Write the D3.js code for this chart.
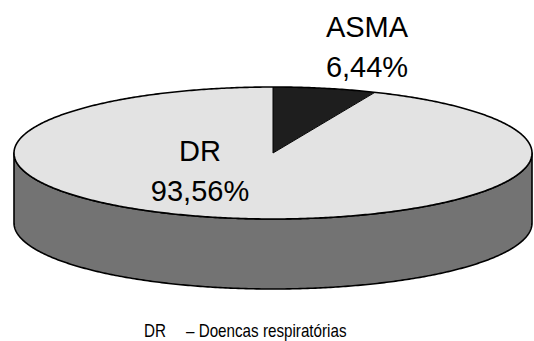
<!DOCTYPE html>
<html>
<head>
<meta charset="utf-8">
<script src="https://cdn.jsdelivr.net/npm/d3@7"></script>
<style>
  html, body { margin: 0; padding: 0; background: #fff; }
  svg { display: block; }
</style>
</head>
<body>
<svg id="chart" width="534" height="341"></svg>
<script>
// Share of cases: asthma vs. other respiratory diseases
const categories = ["ASMA", "DR"];
const values = [6.44, 93.56];
const valueLabels = ["6,44%", "93,56%"];
const legendKey = "DR";
const legendText = "–  Doencas respiratórias";

const topColors = { "ASMA": "#1e1e1e", "DR": "#e3e3e3" };
const sideColors = { "ASMA": "#111111", "DR": "#737373" };

const svg = d3.select("#chart");

// Projected disc geometry
const cx = 273, cy = 153, rx = 259, ry = 66, depth = 70;

const data = categories.map((c, i) => ({ cat: c, value: values[i], label: valueLabels[i] }));
const pie = d3.pie().sort(null).value(d => d.value).startAngle(0).endAngle(2 * Math.PI);
const arcs = pie(data);

// angle measured clockwise from 12 o'clock
const px = a => cx + rx * Math.sin(a);
const py = (a, dy = 0) => cy - ry * Math.cos(a) + dy;

function arcPoints(a0, a1, dy = 0) {
  const n = Math.max(2, Math.ceil(Math.abs(a1 - a0) / 0.01));
  return d3.range(n + 1).map(i => {
    const a = a0 + (a1 - a0) * i / n;
    return [px(a), py(a, dy)];
  });
}
const line = d3.line();

// Side walls: only the front half (angles between PI/2 and 3PI/2) is visible
const g = svg.append("g");
arcs.forEach(a => {
  const s = Math.max(a.startAngle, Math.PI / 2);
  const e = Math.min(a.endAngle, 3 * Math.PI / 2);
  if (e <= s) return;
  const pts = arcPoints(s, e).concat(arcPoints(e, s, depth));
  g.append("path")
    .attr("d", line(pts) + "Z")
    .attr("fill", sideColors[a.data.cat])
    .attr("stroke", "#000")
    .attr("stroke-width", 1.6)
    .attr("stroke-linejoin", "round");
});

// Top faces
arcs.forEach(a => {
  const pts = [[cx, cy]].concat(arcPoints(a.startAngle, a.endAngle));
  g.append("path")
    .attr("d", line(pts) + "Z")
    .attr("fill", topColors[a.data.cat])
    .attr("stroke", "none");
});

// Outer rim of the top face
g.append("path")
  .attr("d", line(arcPoints(0, 2 * Math.PI)) + "Z")
  .attr("fill", "none")
  .attr("stroke", "#000")
  .attr("stroke-width", 1.6);

// Slice edge lines on the dark slice
const asma = arcs[0];
g.append("path")
  .attr("d", line([[px(asma.endAngle), py(asma.endAngle)], [cx, cy], [px(asma.startAngle), py(asma.startAngle)]]))
  .attr("fill", "none")
  .attr("stroke", "#000")
  .attr("stroke-width", 1);

// Data labels
const labelPos = { "ASMA": [367, 37], "DR": [200, 161] };
const lineGap = 40;
arcs.forEach(a => {
  const [lx, ly] = labelPos[a.data.cat];
  const t = svg.append("text")
    .attr("x", lx).attr("y", ly)
    .attr("text-anchor", "middle")
    .attr("font-family", "Liberation Sans, Arial, sans-serif")
    .attr("font-size", 29)
    .attr("fill", "#000");
  t.append("tspan").attr("x", lx).text(a.data.cat);
  t.append("tspan").attr("x", lx).attr("dy", lineGap).text(a.data.label);
});

// Legend note at the bottom, in condensed lettering
const condense = 0.8;
const lg = svg.append("g")
  .attr("font-family", "Liberation Sans, Arial, sans-serif")
  .attr("font-size", 19)
  .attr("fill", "#000");
[[144, legendKey], [186, legendText]].forEach(([x, txt]) => {
  const t = lg.append("text").attr("x", x).attr("y", 337).text(txt);
  const w = t.node().getComputedTextLength();
  t.attr("textLength", w * condense).attr("lengthAdjust", "spacingAndGlyphs");
});
</script>
</body>
</html>
